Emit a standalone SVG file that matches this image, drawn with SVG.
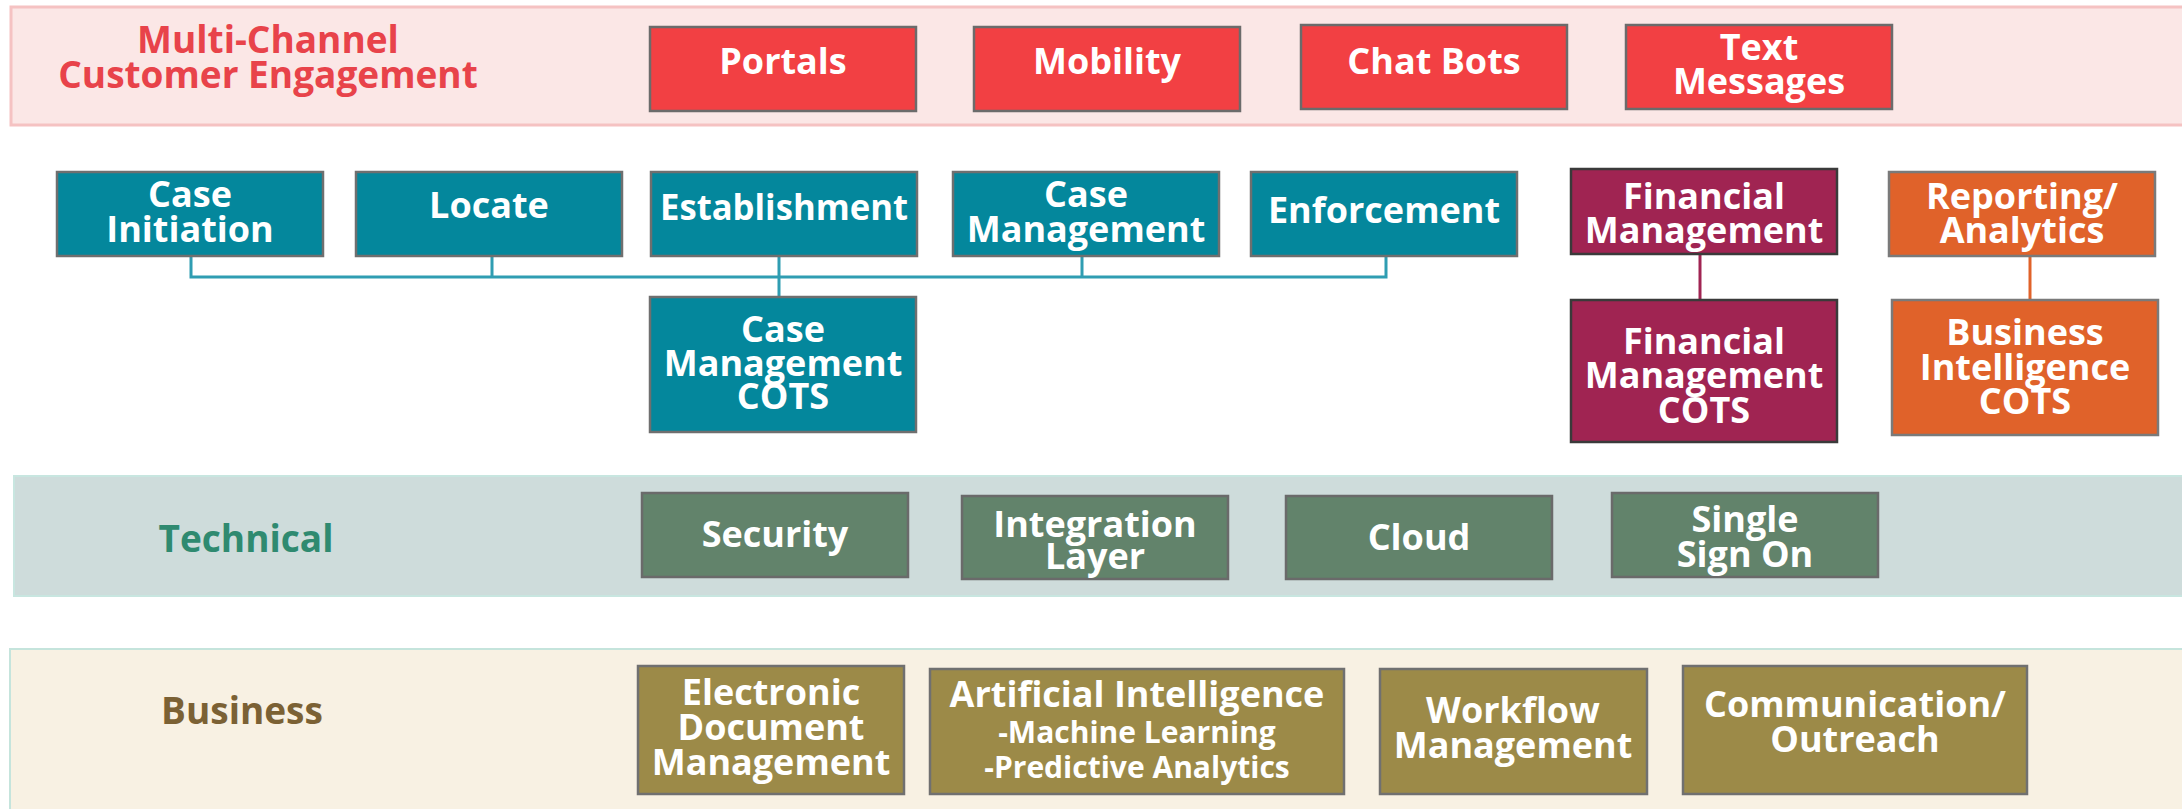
<svg xmlns="http://www.w3.org/2000/svg" width="2182" height="809" viewBox="0 0 2182 809">
<style>
text{font-family:"Open Sans","Liberation Sans",sans-serif;font-weight:bold;text-anchor:middle}
.lbl{fill:#ffffff;font-size:36px}
.sub{fill:#ffffff;font-size:30px}
.red{fill:#f24043;stroke:#6b6b6b;stroke-width:2.5}
.teal{fill:#04879c;stroke:#6f6f6f;stroke-width:2.5}
.mar{fill:#a02452;stroke:#3a3a3a;stroke-width:2.5}
.org{fill:#e0622a;stroke:#7a7a7a;stroke-width:2.5}
.tech{fill:#62836b;stroke:#6a6a6a;stroke-width:2.5}
.bus{fill:#9c8a48;stroke:#707070;stroke-width:2.5}
.title{font-size:37px}
</style>
<rect width="2182" height="809" fill="#ffffff"/>
<g id="band-engagement">
<rect x="11" y="7" width="2190" height="118" fill="#fbe7e6" stroke="#f5c2c2" stroke-width="3"/>
<text class="title" fill="#e8434a" x="268" y="53">Multi-Channel</text>
<text class="title" fill="#e8434a" x="268" y="88">Customer Engagement</text>
</g>
<g id="band-technical">
<rect x="14" y="476" width="2190" height="120" fill="#cedcdb" stroke="#c8e6e0" stroke-width="2"/>
<text class="title" fill="#2f8a70" x="246" y="552">Technical</text>
</g>
<g id="band-business">
<rect x="10" y="649" width="2190" height="180" fill="#f8f1e3" stroke="#c5e4dc" stroke-width="2"/>
<text class="title" fill="#7b6134" x="242" y="724">Business</text>
</g>
<g id="connectors" fill="none" stroke-width="3">
<path d="M191 256V277H1386V256M492 256V277M779 256V297M1082 256V277" stroke="#2f9db2"/>
<path d="M1700 254V300" stroke="#a02452"/>
<path d="M2030 256V300" stroke="#e0622a"/>
</g>
<g id="portals"><rect class="red" x="650" y="27" width="266" height="84"/><text class="lbl" x="783" y="74">Portals</text></g>
<g id="mobility"><rect class="red" x="974" y="27" width="266" height="84"/><text class="lbl" x="1107" y="74">Mobility</text></g>
<g id="chat-bots"><rect class="red" x="1301" y="25" width="266" height="84"/><text class="lbl" x="1434" y="74">Chat Bots</text></g>
<g id="text-messages"><rect class="red" x="1626" y="25" width="266" height="84"/><text class="lbl" x="1759" y="60">Text</text><text class="lbl" x="1759" y="94">Messages</text></g>
<g id="case-initiation"><rect class="teal" x="57" y="172" width="266" height="84"/><text class="lbl" x="190" y="207">Case</text><text class="lbl" x="190" y="242">Initiation</text></g>
<g id="locate"><rect class="teal" x="356" y="172" width="266" height="84"/><text class="lbl" x="489" y="218">Locate</text></g>
<g id="establishment"><rect class="teal" x="651" y="172" width="266" height="84"/><text class="lbl" x="784" y="220" textLength="248" lengthAdjust="spacingAndGlyphs">Establishment</text></g>
<g id="case-management"><rect class="teal" x="953" y="172" width="266" height="84"/><text class="lbl" x="1086" y="207">Case</text><text class="lbl" x="1086" y="242">Management</text></g>
<g id="enforcement"><rect class="teal" x="1251" y="172" width="266" height="84"/><text class="lbl" x="1384" y="223">Enforcement</text></g>
<g id="case-management-cots"><rect class="teal" x="650" y="297" width="266" height="135"/><text class="lbl" x="783" y="342">Case</text><text class="lbl" x="783" y="376">Management</text><text class="lbl" x="783" y="409">COTS</text></g>
<g id="financial-management"><rect class="mar" x="1571" y="169" width="266" height="85"/><text class="lbl" x="1704" y="209">Financial</text><text class="lbl" x="1704" y="243">Management</text></g>
<g id="financial-management-cots"><rect class="mar" x="1571" y="300" width="266" height="142"/><text class="lbl" x="1704" y="354">Financial</text><text class="lbl" x="1704" y="388">Management</text><text class="lbl" x="1704" y="423">COTS</text></g>
<g id="reporting-analytics"><rect class="org" x="1889" y="172" width="266" height="84"/><text class="lbl" x="2022" y="209">Reporting/</text><text class="lbl" x="2022" y="243">Analytics</text></g>
<g id="business-intelligence-cots"><rect class="org" x="1892" y="300" width="266" height="135"/><text class="lbl" x="2025" y="345">Business</text><text class="lbl" x="2025" y="380">Intelligence</text><text class="lbl" x="2025" y="414">COTS</text></g>
<g id="security"><rect class="tech" x="642" y="493" width="266" height="84"/><text class="lbl" x="775" y="547">Security</text></g>
<g id="integration-layer"><rect class="tech" x="962" y="496" width="266" height="83"/><text class="lbl" x="1095" y="537">Integration</text><text class="lbl" x="1095" y="569">Layer</text></g>
<g id="cloud"><rect class="tech" x="1286" y="496" width="266" height="83"/><text class="lbl" x="1419" y="550">Cloud</text></g>
<g id="single-sign-on"><rect class="tech" x="1612" y="493" width="266" height="84"/><text class="lbl" x="1745" y="532">Single</text><text class="lbl" x="1745" y="567">Sign On</text></g>
<g id="electronic-document-management"><rect class="bus" x="638" y="666" width="266" height="128"/><text class="lbl" x="771" y="705">Electronic</text><text class="lbl" x="771" y="740">Document</text><text class="lbl" x="771" y="775">Management</text></g>
<g id="artificial-intelligence"><rect class="bus" x="930" y="669" width="414" height="125"/><text class="lbl" x="1137" y="707">Artificial Intelligence</text><text class="sub" x="1137" y="743">-Machine Learning</text><text class="sub" x="1137" y="778">-Predictive Analytics</text></g>
<g id="workflow-management"><rect class="bus" x="1380" y="669" width="267" height="125"/><text class="lbl" x="1513" y="723">Workflow</text><text class="lbl" x="1513" y="758">Management</text></g>
<g id="communication-outreach"><rect class="bus" x="1683" y="666" width="344" height="128"/><text class="lbl" x="1855" y="717">Communication/</text><text class="lbl" x="1855" y="752">Outreach</text></g>
</svg>
